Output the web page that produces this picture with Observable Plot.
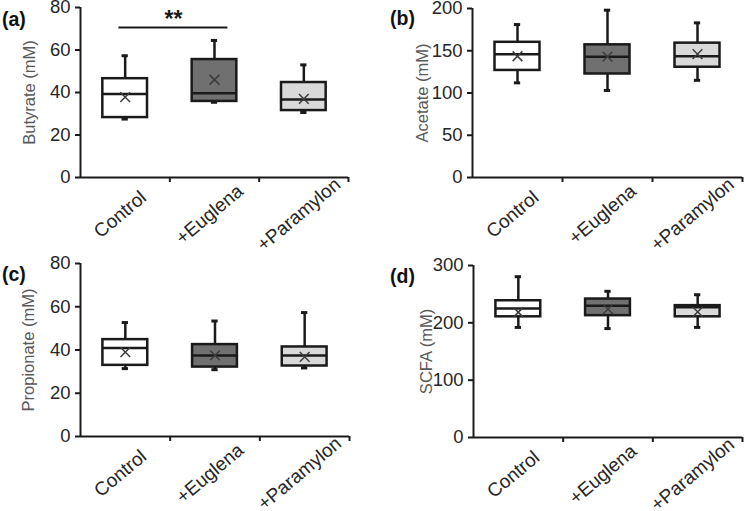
<!DOCTYPE html>
<html>
<head>
<meta charset="utf-8">
<script src="https://cdn.jsdelivr.net/npm/d3@7"></script>
<script src="https://cdn.jsdelivr.net/npm/@observablehq/plot@0.6"></script>
<style>
  body { margin: 0; background: #fff; }
  #wrap { position: relative; width: 749px; height: 511px; background: #fff; overflow: hidden; }
  .panel { position: absolute; }
  .tag { position: absolute; font-family: "Liberation Sans", Arial, sans-serif; font-weight: bold; font-size: 19.5px; color: #111; line-height: 1; }
</style>
</head>
<body>
<div id="wrap"></div>
<script>
// Groups and their box fills
const categories = ["Control", "+Euglena", "+Paramylon"];
const boxFills = ["#ffffff", "#707070", "#d9d9d9"];
// Each row: [min, q1, median, q3, max, mean] per group (mM)
const butyrate   = [[27.5, 28.2, 39.3, 46.5, 57.3, 37.8], [35.4, 35.8, 39.7, 55.5, 64.5, 46.0], [30.6, 31.5, 36.7, 44.7, 53.0, 37.0]];
const acetate    = [[112, 126.7, 146, 160, 181, 143.5], [103, 122.5, 143, 157, 198, 143], [115, 130.5, 143.5, 159, 183, 146]];
const propionate = [[31.4, 32.9, 40.9, 44.8, 52.7, 39.0], [30.9, 32.1, 37.5, 42.5, 53.4, 37.5], [31.7, 32.6, 37.5, 41.4, 57.3, 36.8]];
const scfa       = [[192, 210.5, 225, 238.5, 280.5, 218.5], [190, 212.5, 230, 241.5, 255, 224], [192, 210.5, 227, 230, 249, 219]];
// Axis ticks
const butyrateTicks = [0, 20, 40, 60, 80];
const acetateTicks = [0, 50, 100, 150, 200];
const propionateTicks = [0, 20, 40, 60, 80];
const scfaTicks = [0, 100, 200, 300];
// Significance bracket in panel (a)
const sigGroups = ["Control", "+Euglena"];
const sigLevel = 70.6;
const sigLabel = "**";

const ink = "#1a1a1a";
const font = "'Liberation Sans', Arial, sans-serif";

function drawPanel(cfg) {
  const rows = cfg.values.map((v, i) => ({i, cat: categories[i], fill: boxFills[i],
    min: v[0], q1: v[1], median: v[2], q3: v[3], max: v[4], mean: v[5]}));
  const c = d => d.i + 0.5;
  const marks = [
    Plot.ruleX(rows, {x: c, y1: "min", y2: "max", stroke: ink, strokeWidth: 2.5}),
    Plot.ruleY(rows, {y: "max", x1: d => d.i + 0.465, x2: d => d.i + 0.535, stroke: ink, strokeWidth: 3}),
    Plot.ruleY(rows, {y: "min", x1: d => d.i + 0.465, x2: d => d.i + 0.535, stroke: ink, strokeWidth: 3}),
    Plot.rectY(rows, {x1: d => d.i + 0.25, x2: d => d.i + 0.75, y1: "q1", y2: "q3", fill: "fill", stroke: ink, strokeWidth: 2.5}),
    Plot.ruleY(rows, {y: "median", x1: d => d.i + 0.25, x2: d => d.i + 0.75, stroke: ink, strokeWidth: 2.5}),
    Plot.dot(rows, {x: c, y: "mean", symbol: "times", r: 4.5, stroke: "#3c3c3c", strokeWidth: 1.5}),
    Plot.axisY({ticks: cfg.ticks, tickSize: 5, tickPadding: 5, fontSize: 18.5, label: null, strokeWidth: 2, fill: "#262626"}),
    Plot.axisX({ticks: [1, 2, 3], tickSize: 5, tickFormat: () => "", label: null, strokeWidth: 2}),
    Plot.text(categories, {x: (_, i) => i + 0.5, y: cfg.ticks[0], text: d => d, rotate: -40,
      textAnchor: "middle", lineAnchor: "middle", dx: -5, dy: 37, fontSize: 19, fill: "#262626"}),
    Plot.ruleY([cfg.ticks[0]], {stroke: ink, strokeWidth: 2}),
    Plot.ruleX([0], {stroke: ink, strokeWidth: 2}),
    Plot.text([cfg.title], {frameAnchor: "left", textAnchor: "middle", rotate: -90, dx: -cfg.titleOffset, fontSize: 16.5, fill: "#595959"})
  ];
  if (cfg.sig) {
    const a = categories.indexOf(cfg.sig.groups[0]);
    const b = categories.indexOf(cfg.sig.groups[1]);
    const s = [{x1: a + 0.43, x2: b + 0.65, y: cfg.sig.level, label: cfg.sig.label}];
    marks.push(Plot.ruleY(s, {y: "y", x1: "x1", x2: "x2", stroke: ink, strokeWidth: 2}));
    marks.push(Plot.text(s, {x: d => (d.x1 + d.x2) / 2, y: "y", text: "label", lineAnchor: "bottom", dy: 0, fontSize: 23, fontWeight: "bold", fill: ink}));
  }
  const svg = Plot.plot({
    width: cfg.w, height: cfg.h,
    marginLeft: cfg.m[0], marginTop: cfg.m[1], marginRight: cfg.m[2], marginBottom: cfg.m[3],
    x: {domain: [0, 3]},
    y: {domain: [cfg.ticks[0], cfg.ticks[cfg.ticks.length - 1]]},
    color: {type: "identity"},
    style: {fontFamily: font, color: ink, background: "transparent", overflow: "visible"},
    marks
  });
  svg.classList.add("panel");
  svg.style.left = cfg.left + "px";
  svg.style.top = cfg.top + "px";
  const wrap = document.getElementById("wrap");
  wrap.appendChild(svg);
  const tag = document.createElement("div");
  tag.className = "tag";
  tag.textContent = cfg.tag;
  tag.style.left = cfg.tagPos[0] + "px";
  tag.style.top = cfg.tagPos[1] + "px";
  wrap.appendChild(tag);
}

drawPanel({values: butyrate, ticks: butyrateTicks, title: "Butyrate (mM)", tag: "(a)", tagPos: [2, 10],
  left: 0, top: 0, w: 375, h: 255, m: [80, 7, 27, 78], titleOffset: 51,
  sig: {groups: sigGroups, level: sigLevel, label: sigLabel}});
drawPanel({values: acetate, ticks: acetateTicks, title: "Acetate (mM)", tag: "(b)", tagPos: [390, 9],
  left: 375, top: 0, w: 374, h: 255, m: [97, 8, 7, 78], titleOffset: 50});
drawPanel({values: propionate, ticks: propionateTicks, title: "Propionate (mM)", tag: "(c)", tagPos: [2, 265],
  left: 0, top: 255, w: 375, h: 256, m: [80, 8, 26, 75], titleOffset: 52});
drawPanel({values: scfa, ticks: scfaTicks, title: "SCFA (mM)", tag: "(d)", tagPos: [390, 267],
  left: 375, top: 255, w: 374, h: 256, m: [98, 10, 7, 74], titleOffset: 47});
</script>
</body>
</html>
